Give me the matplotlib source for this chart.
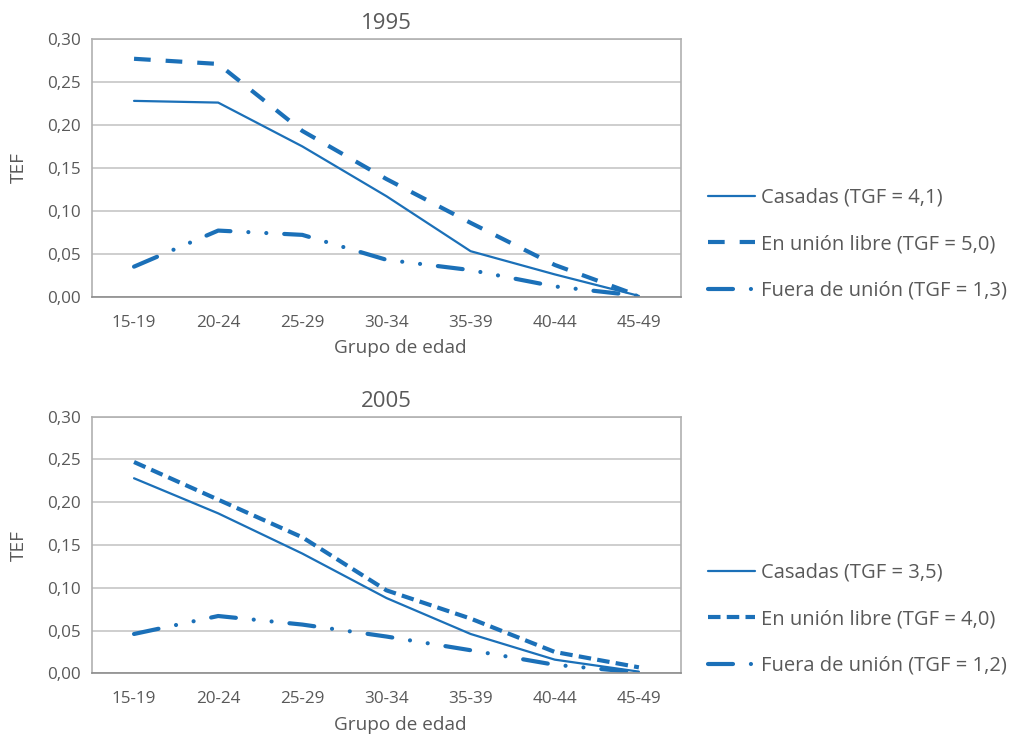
import matplotlib
matplotlib.use("Agg")
import matplotlib.pyplot as plt
from matplotlib.ticker import FuncFormatter, MultipleLocator

# grupos de edad y tasas especificas de fecundidad (TEF)
grupos = ["15-19", "20-24", "25-29", "30-34", "35-39", "40-44", "45-49"]

casadas_1995 = [0.228, 0.226, 0.175, 0.117, 0.053, 0.026, 0.001]
libre_1995 = [0.277, 0.271, 0.193, 0.137, 0.086, 0.037, 0.001]
fuera_1995 = [0.035, 0.077, 0.072, 0.043, 0.031, 0.012, 0.001]

casadas_2005 = [0.228, 0.187, 0.140, 0.088, 0.046, 0.016, 0.002]
libre_2005 = [0.247, 0.203, 0.159, 0.097, 0.064, 0.025, 0.007]
fuera_2005 = [0.046, 0.067, 0.057, 0.043, 0.027, 0.010, 0.001]

tgf_1995 = ["4,1", "5,0", "1,3"]
tgf_2005 = ["3,5", "4,0", "1,2"]

azul = "#1b70b8"
gris_texto = "#595959"

plt.rcParams["font.family"] = ["Open Sans", "DejaVu Sans"]
plt.rcParams["text.color"] = gris_texto
plt.rcParams["axes.labelcolor"] = gris_texto
plt.rcParams["xtick.color"] = gris_texto
plt.rcParams["ytick.color"] = gris_texto

fig = plt.figure(figsize=(10.15, 7.35), dpi=100)


def coma(v, pos):
    return f"{v:.2f}".replace(".", ",")


def panel(rect, titulo, casadas, libre, fuera, tgf, libre_dash, leg_y):
    ax = fig.add_axes(rect)
    x = range(len(grupos))
    ax.plot(x, casadas, color=azul, lw=1.6, solid_capstyle="round",
            label=f"Casadas (TGF = {tgf[0]})")
    ax.plot(x, libre, color=azul, lw=3.0, linestyle=(0, libre_dash),
            label=f"En unión libre (TGF = {tgf[1]})")
    ax.plot(x, fuera, color=azul, lw=3.0,
            linestyle=(0, (6.0, 4.3, 0.01, 4.3, 0.01, 4.3)),
            dash_capstyle="round",
            label=f"Fuera de unión (TGF = {tgf[2]})")

    ax.set_xlim(-0.5, len(grupos) - 0.5)
    ax.set_ylim(0, 0.30)
    ax.set_xticks(list(x))
    ax.set_xticklabels(grupos)
    ax.yaxis.set_major_locator(MultipleLocator(0.05))
    ax.yaxis.set_major_formatter(FuncFormatter(coma))
    ax.tick_params(length=0, labelsize=12.3)
    ax.tick_params(axis="x", pad=13)
    ax.tick_params(axis="y", pad=8)
    ax.grid(axis="y", color="#c6c6c6", lw=1.2)
    ax.set_axisbelow(True)
    for s in ax.spines.values():
        s.set_color("#b0b0b0")
        s.set_linewidth(1.2)
    ax.spines["bottom"].set_color("#8c8c8c")

    ax.set_title(titulo, fontsize=16, pad=7, color=gris_texto)
    ax.set_xlabel("Grupo de edad", fontsize=13.7, labelpad=3)
    ax.xaxis.set_label_coords(0.523, -0.165)
    ax.set_ylabel("TEF", fontsize=13.7, labelpad=14)

    ax.legend(loc="center left", bbox_to_anchor=(1.046, leg_y),
              frameon=False, fontsize=14.5, handlelength=2.34,
              handletextpad=0.3, labelspacing=1.32, borderpad=0,
              borderaxespad=0)
    return ax


panel([0.0906, 0.5963, 0.5803, 0.3506], "1995",
      casadas_1995, libre_1995, fuera_1995, tgf_1995, (4.0, 3.6), 0.204)
panel([0.0906, 0.0839, 0.5803, 0.3492], "2005",
      casadas_2005, libre_2005, fuera_2005, tgf_2005, (3.0, 1.5), 0.211)

fig.savefig("out.png", dpi=100)
